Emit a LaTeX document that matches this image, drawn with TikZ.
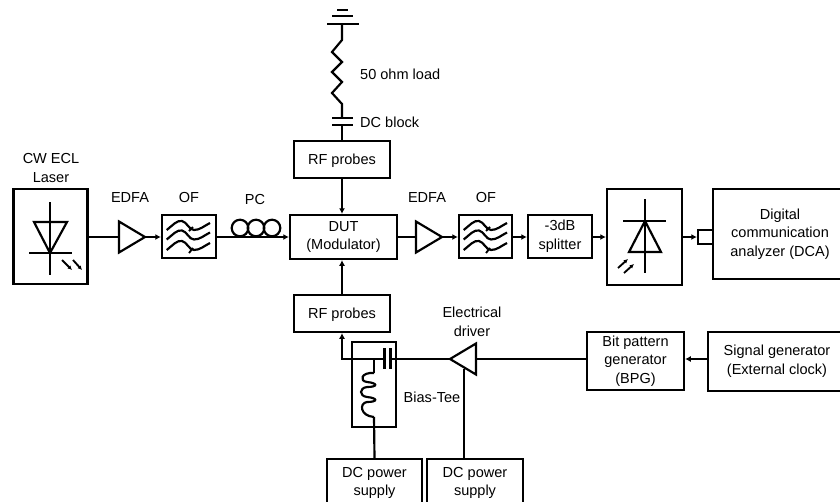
\documentclass[tikz,border=0pt]{standalone}
\usepackage{fontspec}
\setmainfont{Liberation Sans}
\usetikzlibrary{arrows.meta, shapes.geometric}
\tikzset{
  labeltext/.style={font=\fontsize{12.4}{16}\selectfont, align=center, inner sep=0pt},
  blockbox/.style={labeltext, draw, line width=1.85pt, execute at begin node={\rule{0pt}{11.5pt}}},
  ampbox/.style={draw, line width=1.85pt, isosceles triangle, isosceles triangle stretches, minimum width=0.93cm, minimum height=0.78cm, inner sep=0pt, outer sep=0pt},
  wire/.style={line width=1.85pt},
  thinwire/.style={line width=1.6pt}
}

\begin{document}
\begin{tikzpicture}[x=0.03cm, y=-0.03cm, >={Latex[length=1.7mm, width=1.8mm]}]
  \clip (0,0) rectangle (840,501);

  % Blocks
  \node[blockbox, minimum width=2.22cm, minimum height=2.85cm] (laser) at (50.5,236.5) {};
  \node[blockbox, minimum width=1.62cm, minimum height=1.29cm] (of1) at (189,236.5) {};
  \node[blockbox, minimum width=3.21cm, minimum height=1.32cm] (dut) at (343.5,237) {DUT\\(Modulator)};
  \node[blockbox, minimum width=2.88cm, minimum height=1.11cm] (rftop) at (342,159.5) {RF probes};
  \node[blockbox, minimum width=2.88cm, minimum height=1.11cm] (rfbot) at (342,313.5) {RF probes};
  \node[blockbox, minimum width=1.59cm, minimum height=1.29cm] (of2) at (485.5,236.5) {};
  \node[blockbox, minimum width=1.92cm, minimum height=1.29cm] (split) at (560,236.5) {-3dB\\splitter};
  \node[blockbox, minimum width=2.25cm, minimum height=2.88cm] (pd) at (644.5,237) {};
  \node[blockbox, minimum width=0.45cm, minimum height=0.33cm] (port) at (705.5,237) {};
  \node[blockbox, minimum width=4.02cm, minimum height=2.70cm] (dca) at (780,234) {Digital\\communication\\analyzer (DCA)};
  \node[blockbox, minimum width=2.91cm, minimum height=1.74cm] (bpg) at (635.5,361) {Bit pattern\\generator\\(BPG)};
  \node[blockbox, minimum width=4.14cm, minimum height=1.77cm] (siggen) at (777,361.5) {Signal generator\\(External clock)};
  \node[blockbox, minimum width=2.85cm, minimum height=1.44cm] (dc1) at (374.5,483) {DC power\\supply};
  \node[blockbox, minimum width=2.88cm, minimum height=1.44cm] (dc2) at (475,483) {DC power\\supply};
  \node[blockbox, minimum width=1.32cm, minimum height=2.55cm] (tee) at (374,384.5) {};

  % Amplifiers
  \node[ampbox, anchor=apex] (amp1) at (145,237) {};
  \node[ampbox, anchor=apex] (amp2) at (442,237) {};
  \node[ampbox, anchor=apex, shape border rotate=180] (driver) at (450,359) {};

  % Labels
  \node[labeltext] (laserlab) at (51,168) {CW ECL\\Laser};
  \node[labeltext] (amp1lab) at (130,197) {EDFA};
  \node[labeltext] (of1lab) at (189,197) {OF};
  \node[labeltext] (pclab) at (255,199) {PC};
  \node[labeltext] (amp2lab) at (427,197) {EDFA};
  \node[labeltext] (of2lab) at (486,197) {OF};
  \node[labeltext, anchor=west] (loadlab) at (360,74) {50 ohm load};
  \node[labeltext, anchor=west] (blocklab) at (360,122) {DC block};
  \node[labeltext] (drvlab) at (472,322) {Electrical\\driver};
  \node[labeltext] (teelab) at (432,397) {Bias-Tee};

  % Optical path
  \draw[wire] (laser.east |- amp1.apex) -- (amp1.lower side);
  \draw[wire, ->] (amp1.apex) -- (of1.west |- amp1.apex);
  \draw[wire, ->] (of1.east |- dut.west) -- (dut.west);
  \draw[wire] (dut.east) -- (amp2.lower side);
  \draw[wire, ->] (amp2.apex) -- (of2.west |- amp2.apex);
  \draw[wire, ->] (of2.east |- dut.east) -- (split.west |- dut.east);
  \draw[wire, ->] (split.east |- dut.east) -- (pd.west);
  \draw[wire, ->] (pd.east) -- (port.west);

  % PC loops
  \foreach \x in {240,256,272}{
    \draw[wire] (\x,228) circle (8.3);
  }

  % RF path
  \draw[wire, ->] (rftop.south) -- (rftop.south |- dut.north);
  \draw[wire, ->] (rfbot.north) -- (rfbot.north |- dut.south);
  \draw[wire, ->] (driver.apex) -| (rfbot.south);
  \draw[wire] (driver.lower side) -- (bpg.west |- driver.lower side);
  \draw[wire, ->] (siggen.west |- driver.lower side) -- (bpg.east |- driver.lower side);

  % Supplies
  \coordinate (drvtap) at (464,369);
  \coordinate (indtop) at (374,359);
  \draw[wire] (drvtap) -- (drvtap |- dc2.north);
  \draw[thinwire] (indtop) -- (374,373);
  \draw[wire] (374,373) .. controls (361,372) and (359,381) .. (367,382)
    .. controls (378,383) and (378,387) .. (367,387) .. controls (359,388) and (359,396) .. (367,397)
    .. controls (378,398) and (378,402) .. (367,402) .. controls (359,403) and (360,416) .. (374,417);
  \draw[wire] (374,417) -- (dc1.north);

  % Capacitor in the tee
  \fill[white] (385,352) rectangle (390,366);
  \draw[wire] (384.5,348) -- (384.5,369);
  \draw[wire] (390.5,348) -- (390.5,369);

  % Load above the probes
  \coordinate (gnd) at (342,24);
  \draw[wire] (337,10) -- (348,10);
  \draw[wire] (332,16) -- (353,16);
  \draw[wire] (327,24) -- (359,24);
  \draw[wire] (gnd) -- (342,40) -- (332,52) -- (342,62) -- (332,72) -- (342,82) -- (332,93) -- (342,104) -- (342,118);
  \draw[wire] (332,118) -- (353,118);
  \draw[wire] (332,125) -- (353,125);
  \draw[wire] (342,125) -- (rftop.north);

  % Laser diode
  \draw[wire] (50,202) -- (50,275);
  \draw[wire] (34,222) -- (67,222) -- (50,253) -- cycle;
  \draw[wire] (29,253) -- (72,253);
  \draw[thinwire, -{Latex[length=1.3mm, width=1.3mm]}] (62,260) -- (72,270);
  \draw[thinwire, -{Latex[length=1.3mm, width=1.3mm]}] (73,260) -- (82,270);

  % Photodiode
  \draw[wire] (645,199) -- (645,273);
  \draw[wire] (629,252) -- (661,252) -- (645,221) -- cycle;
  \draw[wire] (623,221) -- (666,221);
  \draw[thinwire, -{Latex[length=1.3mm, width=1.3mm]}] (618,268) -- (628,259);
  \draw[thinwire, -{Latex[length=1.3mm, width=1.3mm]}] (624,273) -- (634,264);

  % Filter waves
  \foreach \x in {162,459}{
    \foreach \y in {215,224.5,235}{
      \draw[wire] (\x+4.7,\y+15) .. controls (\x+11,\y+10) and (\x+15,\y+5) .. (\x+20,\y+6)
        .. controls (\x+25,\y+7) and (\x+27,\y+15) .. (\x+32,\y+15)
        .. controls (\x+38,\y+15) and (\x+42,\y+11) .. (\x+48,\y+8);
    }
    \draw[thinwire] (\x+27,215+16) -- (\x+31,215+12);
    \draw[thinwire] (\x+27,235+18) -- (\x+31,235+13);
  }
\end{tikzpicture}
\end{document}
